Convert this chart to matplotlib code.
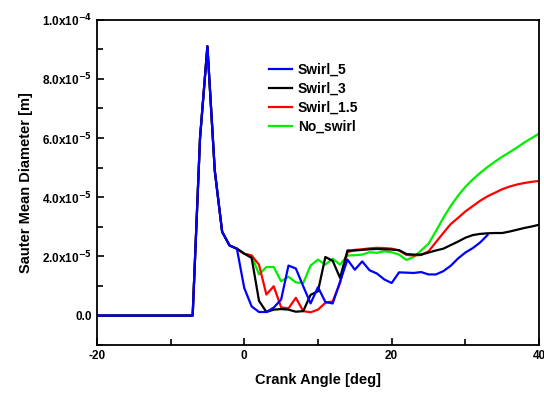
import matplotlib
matplotlib.use("Agg")
import matplotlib.pyplot as plt
from matplotlib.ticker import MultipleLocator, FuncFormatter

plt.rcParams['font.family'] = ['Liberation Sans', 'DejaVu Sans']
plt.rcParams['font.weight'] = 'bold'
plt.rcParams['mathtext.default'] = 'bf'
plt.rcParams['axes.unicode_minus'] = False

# shared part of all runs (crank angle -20 .. -1 deg), values in 1e-5 m
head_angle = list(range(-20, 0))
head_smd = [0.0] * 14 + [6.0, 9.1, 4.9, 2.83, 2.37, 2.26]

# Swirl_5 (0 .. 33 deg)
swirl5_angle = list(range(0, 34))
swirl5_smd = [0.93, 0.31, 0.12, 0.12, 0.27, 0.54, 1.69, 1.59, 0.99, 0.41,
              0.96, 0.46, 0.41, 1.15, 1.89, 1.55, 1.83, 1.53, 1.42, 1.22,
              1.10, 1.46, 1.45, 1.44, 1.47, 1.39, 1.39, 1.50, 1.68, 1.93,
              2.13, 2.28, 2.47, 2.72]

# Swirl_3 (0 .. 40 deg)
swirl3_angle = list(range(0, 41))
swirl3_smd = [2.09, 1.95, 0.50, 0.12, 0.20, 0.22, 0.20, 0.13, 0.15, 0.70,
              0.82, 1.98, 1.85, 1.27, 2.20, 2.20, 2.22, 2.24, 2.25, 2.24,
              2.23, 2.21, 2.08, 2.06, 2.06, 2.13, 2.20, 2.26, 2.38, 2.50,
              2.63, 2.72, 2.76, 2.78, 2.79, 2.79, 2.84, 2.90, 2.96, 3.01,
              3.07]

# Swirl_1.5 (0 .. 40 deg)
swirl15_angle = list(range(0, 41))
swirl15_smd = [2.09, 2.03, 1.72, 0.71, 0.99, 0.28, 0.24, 0.60, 0.15, 0.11,
               0.20, 0.43, 0.48, 1.10, 2.14, 2.22, 2.24, 2.27, 2.29, 2.28,
               2.26, 2.20, 2.05, 2.03, 2.05, 2.17, 2.48, 2.79, 3.09, 3.30,
               3.52, 3.70, 3.88, 4.03, 4.15, 4.27, 4.36, 4.43, 4.48, 4.52,
               4.55]

# No_swirl (0 .. 40 deg)
noswirl_angle = list(range(0, 41))
noswirl_smd = [2.09, 2.03, 1.39, 1.64, 1.64, 1.16, 1.31, 1.12, 1.10, 1.69,
               1.89, 1.72, 1.92, 1.72, 2.03, 2.04, 2.06, 2.14, 2.12, 2.17,
               2.14, 2.06, 1.88, 1.98, 2.20, 2.43, 2.85, 3.30, 3.70, 4.05,
               4.35, 4.60, 4.82, 5.02, 5.20, 5.37, 5.52, 5.68, 5.85, 6.00,
               6.15]

series = [
    ("No_swirl", noswirl_angle, noswirl_smd, "#00ee00"),
    ("Swirl_1.5", swirl15_angle, swirl15_smd, "#ff0000"),
    ("Swirl_3", swirl3_angle, swirl3_smd, "#000000"),
    ("Swirl_5", swirl5_angle, swirl5_smd, "#0000ff"),
]

fig = plt.figure(figsize=(5.44, 3.94), dpi=100)
ax = fig.add_axes([0.178, 0.124, 0.813, 0.826])

handles = {}
for name, ang, smd, col in series:
    xs = head_angle + ang
    ys = [v * 1e-5 for v in head_smd + smd]
    ln, = ax.plot(xs, ys, color=col, lw=1.6, label=name)
    handles[name] = ln

order = ["Swirl_5", "Swirl_3", "Swirl_1.5", "No_swirl"]
ax.legend([handles[n] for n in order], order, loc='upper left',
          bbox_to_anchor=(0.36, 0.905), frameon=False, fontsize=10,
          handlelength=1.7, handletextpad=0.4, labelspacing=0.35)

ax.set_xlim(-20, 40)
ax.set_ylim(-1e-5, 1e-4)
ax.xaxis.set_major_locator(MultipleLocator(20))
ax.xaxis.set_minor_locator(MultipleLocator(10))
ax.yaxis.set_major_locator(MultipleLocator(2e-5))
ax.yaxis.set_minor_locator(MultipleLocator(1e-5))


def sci_fmt(v, pos):
    if abs(v) < 1e-12:
        return "0.0"
    s = f"{v:.1e}"
    m, e = s.split("e")
    return f"{m}x10$^{{{int(e)}}}$"


ax.yaxis.set_major_formatter(FuncFormatter(sci_fmt))
ax.tick_params(which='both', direction='in', top=False, right=False,
               labelsize=8.5, width=1.2)
ax.tick_params(which='major', length=5)
ax.tick_params(which='minor', length=4)
for sp in ax.spines.values():
    sp.set_linewidth(1.3)

ax.set_xlabel("Crank Angle [deg]", fontsize=10.5, fontweight='bold', labelpad=8)
ax.set_ylabel("Sauter Mean Diameter [m]", fontsize=10.5, fontweight='bold', labelpad=6)

fig.savefig("out.png", dpi=100)
